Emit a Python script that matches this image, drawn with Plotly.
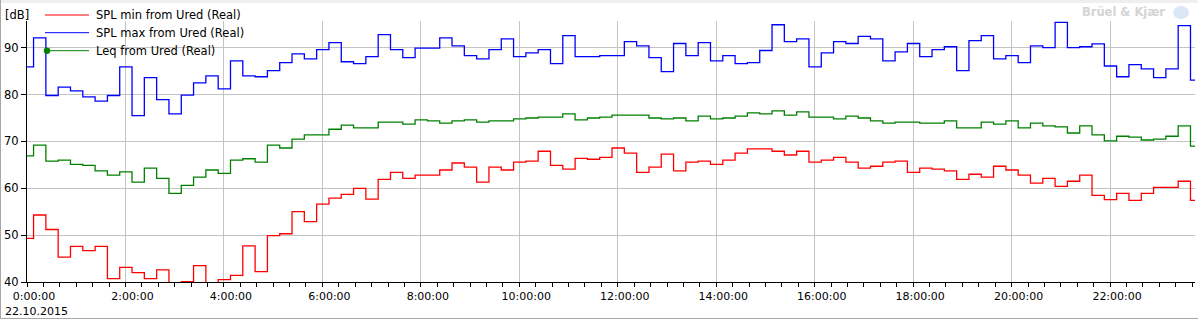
import pandas as pd
import plotly.graph_objects as go

# ---------------- data ----------------
series_names = ["SPL min from Ured (Real)", "SPL max from Ured (Real)", "Leq from Ured (Real)"]
series_colors = ["#ff0000", "#0000ff", "#008000"]

start_time = "2015-10-21 23:53"
interval = "15min"

spl_min = [49.3, 54.3, 51.2, 45.3, 47.6, 46.7, 47.6, 40.7, 43.1, 42.0,
           40.7, 42.6, 38.0, 40.1, 43.5, 37.5, 40.5, 41.4, 47.7, 42.2,
           49.9, 50.3, 55.0, 52.9, 56.6, 57.9, 58.7, 60.0, 57.7, 61.9,
           63.4, 62.1, 62.8, 62.8, 63.9, 65.4, 64.5, 61.3, 64.5, 63.9,
           65.6, 65.8, 67.9, 64.9, 64.1, 66.4, 66.2, 66.6, 68.6, 67.5,
           63.4, 64.5, 67.3, 63.7, 65.6, 65.8, 65.1, 66.0, 67.5, 68.4,
           68.4, 67.9, 67.1, 67.9, 65.6, 66.0, 66.6, 65.6, 64.3, 64.7,
           65.6, 65.8, 63.4, 64.3, 64.1, 63.7, 61.9, 63.0, 62.4, 64.7,
           63.9, 62.8, 61.1, 62.1, 60.4, 61.5, 62.8, 58.5, 57.6, 58.9,
           57.4, 58.9, 60.2, 60.2, 61.5, 57.4]

spl_max = [85.9, 92.1, 79.8, 81.6, 80.8, 79.5, 78.6, 79.8, 85.9, 75.5,
           83.6, 78.9, 75.9, 79.9, 82.5, 84.0, 81.2, 87.2, 84.0, 83.8,
           85.1, 86.8, 88.7, 87.6, 89.6, 91.1, 87.0, 86.6, 88.1, 92.8,
           89.6, 87.9, 89.9, 89.9, 92.1, 90.4, 88.3, 87.6, 89.6, 91.9,
           88.1, 88.9, 89.6, 86.6, 92.6, 88.1, 88.1, 88.3, 88.3, 91.3,
           90.4, 87.9, 84.9, 90.9, 88.3, 91.1, 87.2, 88.3, 86.6, 86.8,
           89.4, 94.9, 91.3, 91.9, 85.9, 88.9, 91.3, 90.9, 92.4, 91.9,
           87.2, 89.1, 90.9, 88.1, 89.6, 90.2, 85.1, 91.5, 92.6, 87.6,
           88.3, 86.8, 90.4, 90.0, 95.4, 90.0, 90.2, 90.8, 86.1, 83.8,
           86.4, 85.5, 83.6, 85.5, 94.7, 83.1]

leq = [66.9, 69.2, 65.8, 66.0, 65.1, 64.9, 63.7, 62.8, 63.5, 61.3,
       64.3, 62.1, 58.9, 60.6, 62.4, 63.9, 63.2, 66.0, 66.3, 65.6,
       69.2, 68.6, 70.5, 71.4, 71.4, 72.6, 73.5, 72.9, 72.9, 74.1,
       74.1, 73.7, 74.6, 74.4, 73.9, 74.4, 74.6, 74.1, 74.4, 74.4,
       74.8, 75.0, 75.2, 75.2, 75.9, 74.6, 75.0, 75.2, 75.6, 75.6,
       75.6, 75.0, 74.8, 75.0, 74.4, 75.4, 74.8, 75.0, 75.4, 76.1,
       75.9, 76.5, 75.6, 76.3, 75.2, 75.2, 74.8, 75.4, 75.0, 74.4,
       73.9, 74.1, 74.1, 73.9, 73.9, 74.4, 72.9, 72.9, 74.1, 73.7,
       74.4, 72.9, 73.9, 73.3, 73.1, 71.8, 73.3, 71.4, 70.1, 71.1,
       70.9, 70.3, 70.5, 71.1, 73.3, 69.0]

y_ticks = [40, 50, 60, 70, 80, 90]
x_range = ["2015-10-22 00:00:00", "2015-10-22 23:43:30"]
date_label = "22.10.2015"
unit_label = "[dB]"
watermark = "Brüel & Kjær"

# ---------------- figure ----------------
W, H = 1198, 321
ML, MR, MT, MB = 27, 3, 21, 39
PW, PH = W - ML - MR, H - MT - MB


def px(xp):
    return (xp - ML) / PW


def py(yp):
    return (H - MB - yp) / PH


times = pd.date_range(start_time, periods=len(leq), freq=interval)
# step edges: each interval start plus the end of the final interval
edges = list(times) + [times[-1] + pd.Timedelta(interval)]

fig = go.Figure()
for name, color, vals in zip(series_names, series_colors, [spl_min, spl_max, leq]):
    fig.add_trace(go.Scatter(
        x=edges, y=list(vals) + [vals[-1]], name=name, mode="lines",
        line=dict(color=color, width=1.3, shape="hv"), showlegend=False,
        hoverinfo="skip"))

font = "DejaVu Sans"
fig.update_layout(
    width=W, height=H,
    margin=dict(l=ML, r=MR, t=MT, b=MB, pad=0),
    paper_bgcolor="white", plot_bgcolor="white",
    font=dict(family=font, size=11, color="#000000"),
    xaxis=dict(
        type="date", range=x_range,
        tick0="2015-10-22", dtick=2 * 3600 * 1000,
        tickformat="%-H:%M:%S",
        showgrid=True, gridcolor="#c4c4c4", gridwidth=1,
        showline=True, linecolor="#000000", linewidth=1,
        ticks="outside", ticklen=4, tickcolor="#000000",
        tickfont=dict(family=font, size=11, color="#000000"),
        ticklabelshift=7,
        minor=dict(dtick=20 * 60 * 1000, ticks="outside", ticklen=4,
                   tickcolor="#000000", showgrid=False),
        zeroline=False, fixedrange=True,
    ),
    yaxis=dict(
        range=[40, 95.7], tickvals=y_ticks,
        showgrid=True, gridcolor="#c4c4c4", gridwidth=1,
        showline=True, linecolor="#000000", linewidth=1,
        ticks="outside", ticklen=5, tickcolor="#000000",
        tickfont=dict(family=font, size=11.5, color="#000000"),
        zeroline=False, fixedrange=True,
    ),
)

shapes = []
annotations = []

# custom legend
legend_rows = [15, 32.7, 50.7]
for name, color, yrow in zip(series_names, series_colors, legend_rows):
    shapes.append(dict(type="line", xref="paper", yref="paper",
                       x0=px(45), x1=px(89), y0=py(yrow), y1=py(yrow),
                       line=dict(color=color, width=1)))
    annotations.append(dict(text=name, xref="paper", yref="paper",
                            x=px(93.5), y=py(yrow), xanchor="left", yanchor="middle",
                            showarrow=False,
                            font=dict(family=font, size=11.5, color="#000000")))
# marker dot on the Leq legend entry
shapes.append(dict(type="circle", xref="paper", yref="paper",
                   x0=px(43.8), x1=px(50.2), y0=py(47.5), y1=py(53.9),
                   fillcolor=series_colors[2], line=dict(color=series_colors[2], width=0)))

# unit label, date, watermark
annotations.append(dict(text=unit_label, xref="paper", yref="paper",
                        x=px(3), y=py(15), xanchor="left", yanchor="middle",
                        showarrow=False, font=dict(family=font, size=11.5, color="#000000")))
annotations.append(dict(text=date_label, xref="paper", yref="paper",
                        x=px(2.5), y=py(311), xanchor="left", yanchor="middle",
                        showarrow=False, font=dict(family=font, size=11, color="#000000")))
annotations.append(dict(text="<b>" + watermark + "</b>", xref="paper", yref="paper",
                        x=px(1167), y=py(12.5), xanchor="right", yanchor="middle",
                        showarrow=False, font=dict(family=font, size=11.5, color="#d4d4d4")))
shapes.append(dict(type="circle", xref="paper", yref="paper",
                   x0=px(1173), x1=px(1189), y0=py(6), y1=py(19),
                   fillcolor="#dbe6f6", line=dict(color="#dbe6f6", width=0), layer="below"))

# window frame
shapes.append(dict(type="rect", xref="paper", yref="paper",
                   x0=px(0), x1=px(W), y0=py(0), y1=py(3),
                   fillcolor="#efefef", line=dict(width=0), layer="below"))
shapes.append(dict(type="line", xref="paper", yref="paper",
                   x0=px(0.5), x1=px(0.5), y0=py(0), y1=py(318.5),
                   line=dict(color="#a8a8a8", width=1)))
shapes.append(dict(type="line", xref="paper", yref="paper",
                   x0=px(0), x1=px(W), y0=py(318.5), y1=py(318.5),
                   line=dict(color="#a8a8a8", width=1)))

fig.update_layout(shapes=shapes, annotations=annotations)
fig.write_html("out.html")
